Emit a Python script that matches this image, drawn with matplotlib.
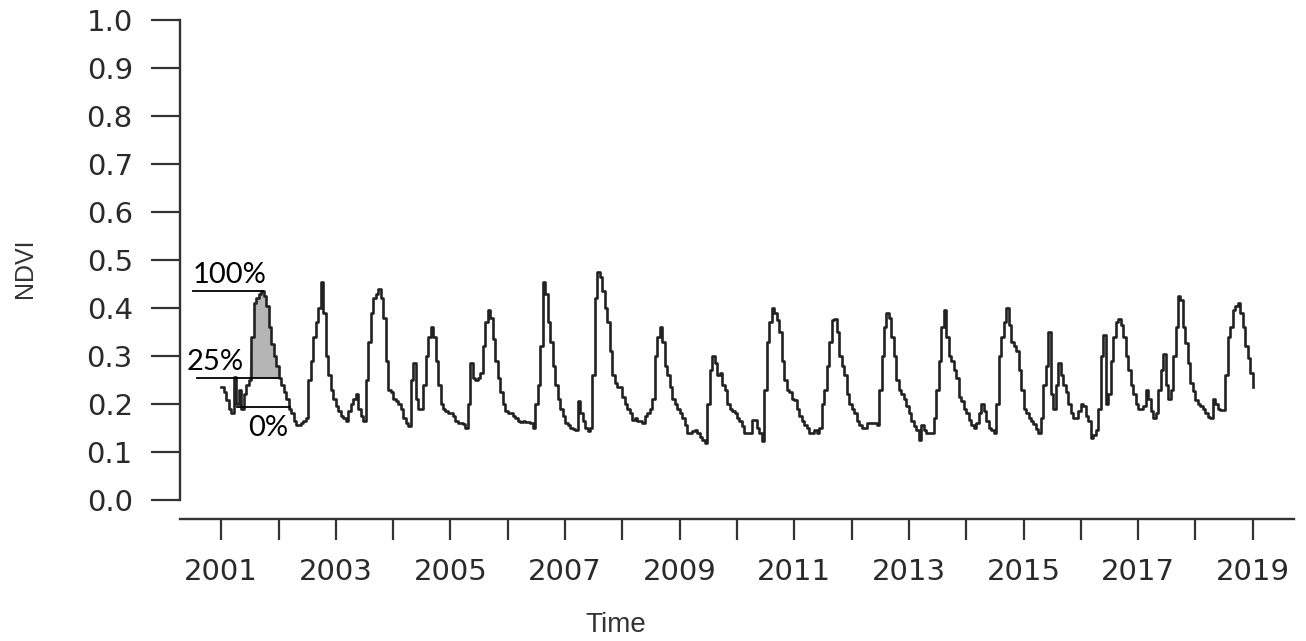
import matplotlib
matplotlib.use("Agg")
import matplotlib.pyplot as plt
import numpy as np

# 16-day NDVI composites, 23 per year
ndvi_2001 = [0.236, 0.225, 0.208, 0.19, 0.18, 0.257, 0.20, 0.23, 0.19, 0.22, 0.24, 0.25,
             0.34, 0.41, 0.42, 0.43, 0.436, 0.425, 0.405, 0.36, 0.325, 0.30, 0.28]
ndvi_2002 = [0.255, 0.24, 0.225, 0.21, 0.19, 0.18, 0.165, 0.155, 0.155, 0.16, 0.165, 0.17,
             0.25, 0.29, 0.34, 0.37, 0.40, 0.455, 0.39, 0.30, 0.26, 0.23, 0.21]
ndvi_2003 = [0.195, 0.185, 0.175, 0.17, 0.165, 0.185, 0.20, 0.21, 0.22, 0.19, 0.175, 0.165,
             0.25, 0.33, 0.39, 0.42, 0.43, 0.44, 0.42, 0.38, 0.29, 0.23, 0.225]
ndvi_2004 = [0.21, 0.205, 0.20, 0.19, 0.17, 0.16, 0.153, 0.25, 0.285, 0.21, 0.19, 0.19,
             0.24, 0.30, 0.34, 0.36, 0.34, 0.29, 0.24, 0.20, 0.19, 0.185, 0.18]
ndvi_2005 = [0.18, 0.175, 0.165, 0.16, 0.16, 0.158, 0.15, 0.20, 0.285, 0.255, 0.25, 0.255,
             0.265, 0.32, 0.37, 0.395, 0.38, 0.335, 0.29, 0.255, 0.225, 0.20, 0.185]
ndvi_2006 = [0.18, 0.18, 0.175, 0.17, 0.165, 0.163, 0.165, 0.163, 0.163, 0.16, 0.15, 0.20,
             0.24, 0.32, 0.455, 0.43, 0.37, 0.33, 0.28, 0.24, 0.21, 0.19, 0.175]
ndvi_2007 = [0.16, 0.155, 0.15, 0.147, 0.146, 0.205, 0.18, 0.165, 0.15, 0.143, 0.15, 0.26,
             0.42, 0.476, 0.465, 0.435, 0.40, 0.37, 0.31, 0.26, 0.243, 0.235, 0.235]
ndvi_2008 = [0.215, 0.20, 0.19, 0.18, 0.167, 0.17, 0.165, 0.165, 0.16, 0.175, 0.18, 0.19,
             0.21, 0.30, 0.34, 0.36, 0.33, 0.28, 0.26, 0.235, 0.21, 0.20, 0.19]
ndvi_2009 = [0.18, 0.17, 0.155, 0.14, 0.14, 0.143, 0.145, 0.14, 0.13, 0.125, 0.118, 0.20,
             0.27, 0.30, 0.285, 0.26, 0.265, 0.24, 0.23, 0.20, 0.19, 0.185, 0.18]
ndvi_2010 = [0.17, 0.165, 0.153, 0.14, 0.139, 0.14, 0.167, 0.167, 0.15, 0.14, 0.122, 0.23,
             0.33, 0.37, 0.40, 0.39, 0.375, 0.35, 0.29, 0.25, 0.23, 0.225, 0.21]
ndvi_2011 = [0.208, 0.19, 0.175, 0.165, 0.155, 0.15, 0.14, 0.14, 0.145, 0.14, 0.15, 0.20,
             0.23, 0.28, 0.33, 0.375, 0.378, 0.35, 0.30, 0.28, 0.26, 0.22, 0.20]
ndvi_2012 = [0.19, 0.18, 0.165, 0.155, 0.15, 0.15, 0.16, 0.16, 0.16, 0.16, 0.155, 0.23,
             0.30, 0.36, 0.39, 0.38, 0.34, 0.30, 0.25, 0.23, 0.22, 0.21, 0.195]
ndvi_2013 = [0.18, 0.165, 0.153, 0.145, 0.125, 0.155, 0.145, 0.14, 0.139, 0.14, 0.17, 0.23,
             0.29, 0.36, 0.395, 0.34, 0.30, 0.29, 0.27, 0.255, 0.215, 0.205, 0.19]
ndvi_2014 = [0.18, 0.167, 0.155, 0.15, 0.16, 0.18, 0.20, 0.185, 0.165, 0.15, 0.145, 0.14,
             0.20, 0.30, 0.34, 0.37, 0.40, 0.365, 0.33, 0.32, 0.31, 0.27, 0.23]
ndvi_2015 = [0.19, 0.18, 0.17, 0.165, 0.158, 0.148, 0.14, 0.17, 0.24, 0.28, 0.35, 0.22,
             0.19, 0.24, 0.285, 0.26, 0.24, 0.225, 0.20, 0.18, 0.17, 0.17, 0.185]
ndvi_2016 = [0.20, 0.195, 0.175, 0.165, 0.128, 0.135, 0.145, 0.19, 0.30, 0.343, 0.20, 0.22,
             0.29, 0.34, 0.37, 0.378, 0.365, 0.34, 0.30, 0.27, 0.24, 0.22, 0.20]
ndvi_2017 = [0.19, 0.19, 0.195, 0.23, 0.21, 0.185, 0.17, 0.18, 0.23, 0.27, 0.305, 0.24,
             0.21, 0.23, 0.30, 0.36, 0.424, 0.417, 0.36, 0.326, 0.285, 0.243, 0.226]
ndvi_2018 = [0.208, 0.20, 0.195, 0.19, 0.181, 0.172, 0.17, 0.21, 0.20, 0.19, 0.188, 0.188,
             0.26, 0.34, 0.36, 0.395, 0.405, 0.41, 0.39, 0.36, 0.32, 0.295, 0.265]
ndvi_2019 = [0.236]

# season marks drawn on the 2001 peak
level_0 = 0.194
level_100 = 0.436
level_25 = level_0 + 0.25 * (level_100 - level_0)

ndvi = np.array(ndvi_2001 + ndvi_2002 + ndvi_2003 + ndvi_2004 + ndvi_2005 + ndvi_2006
                + ndvi_2007 + ndvi_2008 + ndvi_2009 + ndvi_2010 + ndvi_2011 + ndvi_2012
                + ndvi_2013 + ndvi_2014 + ndvi_2015 + ndvi_2016 + ndvi_2017 + ndvi_2018
                + ndvi_2019)
t = 2001 + np.arange(len(ndvi)) / 23.0

fig = plt.figure(figsize=(13.06, 6.41), dpi=100)
ax = fig.add_axes([180 / 1306, 1 - 519 / 641, (1294 - 180) / 1306, (519 - 1) / 641])

season = (t >= 2001.3) & (t <= 2002.1)
ax.fill_between(t, ndvi, level_25, where=season & (ndvi >= level_25),
                interpolate=True, color="#b5b5b5", lw=0, step="post")
ax.plot(t, ndvi, color="#222222", lw=1.9, drawstyle="steps-post")

ax.plot([2000.51, 2001.72], [level_100, level_100], color="black", lw=1.3)
ax.plot([2000.58, 2001.99], [level_25, level_25], color="black", lw=1.3)
ax.plot([2001.28, 2002.20], [level_0, level_0], color="black", lw=1.3)
ax.text(2000.50, level_100 + 0.005, "100%", fontsize=21, family="Lato", va="bottom", ha="left")
ax.text(2000.40, level_25 + 0.005, "25%", fontsize=21, family="Lato", va="bottom", ha="left")
ax.text(2001.47, level_0 - 0.018, "0%", fontsize=21, family="Lato", va="top", ha="left")

ax.set_xlim(2000.28, 2019.72)
ax.set_ylim(-0.04, 1.04)

ax.spines["top"].set_visible(False)
ax.spines["right"].set_visible(False)
ax.spines["left"].set_bounds(0, 1)
for s in ["left", "bottom"]:
    ax.spines[s].set_linewidth(1.7)
    ax.spines[s].set_color("#333333")

yticks = np.round(np.arange(0, 1.01, 0.1), 1)
ax.set_yticks(yticks)
ax.set_yticklabels([f"{v:.1f}" for v in yticks])
xticks = np.arange(2001, 2020)
ax.set_xticks(xticks)
ax.set_xticklabels([str(y) if y % 2 == 1 else "" for y in xticks])

ax.tick_params(axis="y", length=21, width=1.6, pad=13, labelsize=21, color="#333333",
               labelcolor="#2a2a2a")
ax.tick_params(axis="x", length=15, width=1.6, pad=13, labelsize=21, color="#333333",
               labelcolor="#2a2a2a")
for lab in ax.get_xticklabels() + ax.get_yticklabels():
    lab.set_family("DejaVu Sans")

fig.text(25 / 1306, 1 - 268 / 641, "NDVI", rotation=90, fontsize=18, family="Liberation Sans",
         color="#333333", ha="center", va="center")
fig.text(616 / 1306, 1 - 625 / 641, "Time", fontsize=20, family="Liberation Sans",
         color="#333333", ha="center", va="center")

fig.savefig("out.png", dpi=100)
